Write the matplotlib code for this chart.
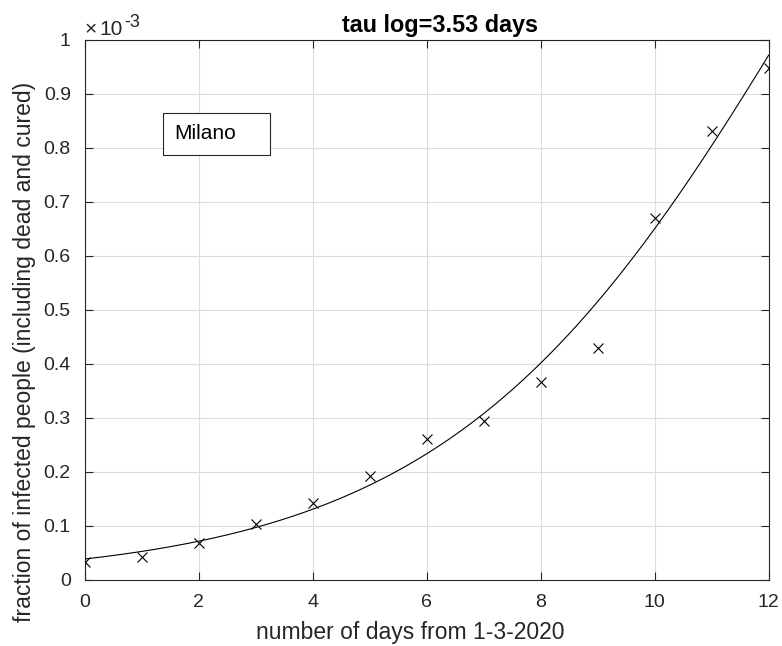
import numpy as np
import matplotlib
matplotlib.use("Agg")
import matplotlib.pyplot as plt
from matplotlib.patches import Rectangle

# data (fraction of infected people, in units of 1e-3)
days = [0, 1, 2, 3, 4, 5, 6, 7, 8, 9, 10, 11, 12]
fraction_e3 = [0.033, 0.042, 0.068, 0.104, 0.143, 0.193, 0.261,
               0.294, 0.367, 0.430, 0.670, 0.831, 0.948]

# fitted logistic curve parameters
fit_K = 2.23
fit_x0 = 12.82
fit_s = 3.18

title_text = "tau log=3.53 days"
legend_text = "Milano"
xticks = [0, 2, 4, 6, 8, 10, 12]
yticks = [0, 0.1, 0.2, 0.3, 0.4, 0.5, 0.6, 0.7, 0.8, 0.9, 1]
ytick_labels = ["0", "0.1", "0.2", "0.3", "0.4", "0.5", "0.6", "0.7", "0.8", "0.9", "1"]

plt.rcParams['font.family'] = ['Liberation Sans', 'DejaVu Sans']
axcol = '#262626'
W, H = 782, 646

fig = plt.figure(figsize=(W / 100, H / 100), dpi=100)
ax = fig.add_axes([84.7 / W, 66 / H, 684 / W, 540 / H])

xx = np.linspace(0, 12, 300)
yy = fit_K / (1 + np.exp(-(xx - fit_x0) / fit_s))
ax.plot(xx, yy, color='black', lw=0.8, zorder=3)
ax.plot(days, fraction_e3, 'x', color='black', ms=7, mew=0.8, zorder=4)

ax.set_xlim(0, 12)
ax.set_ylim(0, 1)
ax.set_xticks(xticks)
ax.set_yticks(yticks)
ax.set_yticklabels(ytick_labels)
ax.grid(True, color='#dcdcdc', lw=0.8)
ax.set_axisbelow(True)
ax.tick_params(direction='in', length=6, width=0.8, top=True, right=True,
               labelsize=14, colors=axcol)
ax.tick_params(axis='x', pad=10)
ax.tick_params(axis='y', pad=10)
for sp in ax.spines.values():
    sp.set_color(axcol)
    sp.set_linewidth(0.8)

ax.set_xlabel("number of days from 1-3-2020", fontsize=16.5, color=axcol)
ax.xaxis.set_label_coords((410 - 84.7) / 684, -(644 - 580) / 540)
ax.xaxis.label.set_va('bottom')
ax.set_ylabel("fraction of infected people (including dead and cured)",
              fontsize=16.5, color=axcol)
ax.yaxis.set_label_coords((36 - 84.7) / 684, (580 - 351.5) / 540)

ax.set_title(title_text, fontsize=16.8, fontweight='bold',
             x=(440 - 84.7) / 684, pad=6)

# exponent label like MATLAB
fig.text(85 / W, 1 - 35 / H, "\u00d7", fontsize=15, color=axcol,
         ha='left', va='baseline')
fig.text(99 / W, 1 - 35 / H, "10", fontsize=15, color=axcol,
         ha='left', va='baseline')
fig.text(124 / W, 1 - 27 / H, "-3", fontsize=13, color=axcol,
         ha='left', va='baseline')

# text box like MATLAB legend
ax.add_patch(Rectangle((0.115, 0.787), 0.156, 0.078, transform=ax.transAxes,
                       facecolor='white', edgecolor=axcol, lw=0.8, zorder=5))
ax.text(0.1306, 0.826, legend_text, transform=ax.transAxes, fontsize=15,
        va='center', ha='left', zorder=6)

fig.savefig("out.png", dpi=100)
